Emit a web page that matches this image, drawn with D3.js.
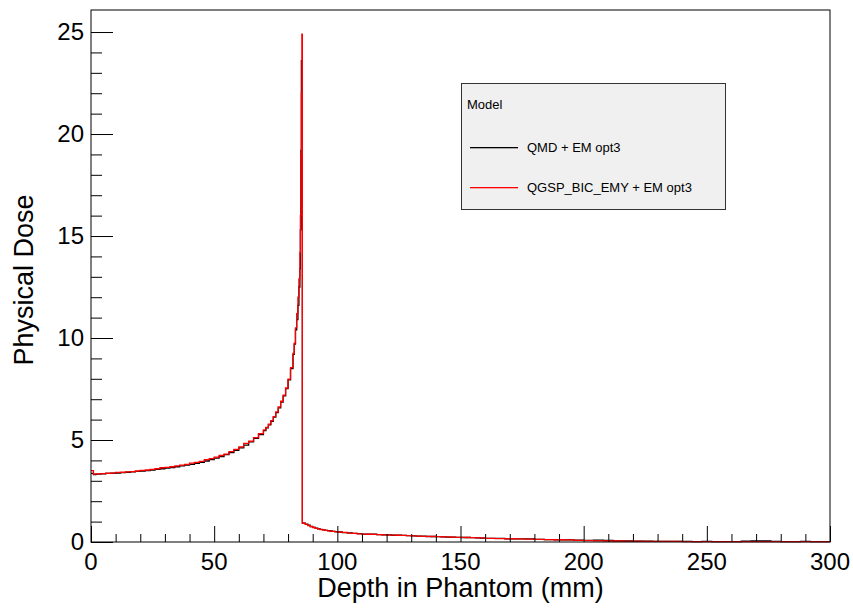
<!DOCTYPE html>
<html>
<head>
<meta charset="utf-8">
<script src="https://cdn.jsdelivr.net/npm/d3@7"></script>
<style>
  body { margin: 0; background: #fff; }
  text { font-family: "Liberation Sans", Arial, Helvetica, sans-serif; }
</style>
</head>
<body>
<div id="chart"></div>
<script>
// bin left edges in mm (last bin ends at 300)
var depth = [
  0, 1,
  2, 4, 6, 8, 10, 12, 14, 16, 18, 20, 22, 24, 26, 28, 30, 32, 34,
  36, 38, 40, 42, 44, 46, 48, 50, 52, 54, 56, 58, 60, 62, 64, 66, 68,
  70, 71, 72, 73, 74, 75, 76, 77, 78, 79, 80, 81,
  82, 82.5, 83, 83.5,
  84, 84.4, 84.8, 85, 85.2, 85.4, 85.6,
  85.8,
  86, 87, 88, 89, 90, 91, 92, 93, 94, 95, 96, 97, 98, 99,
  100, 102, 104, 106, 108, 110, 112, 114, 116, 118, 120, 122, 124, 126, 128,
  130, 132, 134, 136, 138, 140, 142, 144, 146, 148, 150, 152, 154, 156, 158,
  160, 164, 168, 172, 176, 180, 184, 188, 192, 196, 200, 204, 208, 212, 216,
  220, 224, 228, 232, 236, 240, 244, 248, 252, 256, 260, 264, 268, 272, 276,
  280, 284, 288, 292, 296
];
var depthEnd = 300;

var doseQMD = [
  3.36, 3.31,
  3.33, 3.34, 3.36, 3.37, 3.38, 3.40, 3.42, 3.44, 3.46, 3.48, 3.50, 3.53, 3.56, 3.59, 3.62, 3.65, 3.69,
  3.73, 3.77, 3.81, 3.86, 3.91, 3.97, 4.04, 4.11, 4.19, 4.28, 4.38, 4.49, 4.61, 4.75, 4.91, 5.08, 5.27,
  5.46, 5.60, 5.74, 5.92, 6.12, 6.34, 6.58, 6.86, 7.16, 7.52, 7.95, 8.50,
  9.20, 9.70, 10.4, 10.9,
  11.6, 12.5, 13.4, 15.3, 19.2, 23.6, 23.2,
  0.92,
  0.93, 0.88, 0.82, 0.76, 0.72, 0.68, 0.64, 0.62, 0.59, 0.57, 0.56, 0.54, 0.52, 0.51,
  0.49, 0.46, 0.45, 0.42, 0.41, 0.39, 0.38, 0.38, 0.36, 0.35, 0.35, 0.33, 0.33, 0.32, 0.31,
  0.30, 0.29, 0.29, 0.27, 0.27, 0.26, 0.25, 0.24, 0.24, 0.23, 0.22, 0.22, 0.21, 0.20, 0.19,
  0.18, 0.18, 0.16, 0.15, 0.15, 0.13, 0.12, 0.11, 0.10, 0.09, 0.08, 0.09, 0.08, 0.06, 0.05,
  0.04, 0.04, 0.03, 0.03, 0.03, 0.03, 0.02, 0.03, 0.02, 0.02, 0.02, 0.04, 0.05, 0.05, 0.03,
  0.02, 0.02, 0.03, 0.02, 0.02
];

var doseQGSP = [
  3.50, 3.33,
  3.34, 3.35, 3.37, 3.38, 3.41, 3.42, 3.44, 3.45, 3.48, 3.51, 3.53, 3.56, 3.59, 3.64, 3.66, 3.69, 3.73,
  3.77, 3.81, 3.87, 3.90, 3.95, 4.04, 4.09, 4.16, 4.24, 4.31, 4.43, 4.54, 4.66, 4.83, 4.95, 5.12, 5.31,
  5.50, 5.62, 5.78, 5.95, 6.15, 6.38, 6.62, 6.90, 7.20, 7.55, 7.98, 8.55,
  9.25, 9.75, 10.5, 11.2,
  12.0, 12.9, 14.2, 16.0, 19.0, 22.0, 24.9,
  0.95,
  0.92, 0.86, 0.80, 0.75, 0.71, 0.67, 0.64, 0.61, 0.59, 0.57, 0.55, 0.53, 0.52, 0.50,
  0.49, 0.47, 0.44, 0.42, 0.40, 0.39, 0.38, 0.37, 0.36, 0.35, 0.34, 0.34, 0.33, 0.32, 0.31,
  0.30, 0.29, 0.28, 0.28, 0.27, 0.26, 0.25, 0.25, 0.24, 0.23, 0.23, 0.22, 0.21, 0.20, 0.20,
  0.18, 0.17, 0.16, 0.15, 0.14, 0.13, 0.12, 0.11, 0.10, 0.08, 0.07, 0.06, 0.05, 0.05, 0.04,
  0.04, 0.03, 0.03, 0.03, 0.03, 0.02, 0.02, 0.02, 0.02, 0.02, 0.02, 0.02, 0.02, 0.02, 0.02,
  0.02, 0.02, 0.02, 0.02, 0.02
];

var seriesNames = ["QMD + EM opt3", "QGSP_BIC_EMY + EM opt3"];
var seriesColors = ["#000000", "#ff0000"];
var xMajorTicks = [0, 50, 100, 150, 200, 250, 300];
var yMajorTicks = [0, 5, 10, 15, 20, 25];

var w = 853, h = 608;
var padL = 91, padR = 830, padT = 10, padB = 542;

var svg = d3.select("#chart").append("svg")
  .attr("width", w)
  .attr("height", h);

var xScale = d3.scaleLinear().domain([0, 300]).range([padL, padR]);
var yScale = d3.scaleLinear().domain([0, 26.08]).range([padB, padT]);

// histogram lines (step after each bin edge)
function stepData(vals) {
  var pts = depth.map(function(d, i) { return [d, vals[i]]; });
  pts.push([depthEnd, vals[vals.length - 1]]);
  return pts;
}

var line = d3.line()
  .x(function(d) { return xScale(d[0]); })
  .y(function(d) { return yScale(d[1]); })
  .curve(d3.curveStepAfter);

[doseQMD, doseQGSP].forEach(function(vals, i) {
  svg.append("path")
    .datum(stepData(vals))
    .attr("fill", "none")
    .attr("stroke", seriesColors[i])
    .attr("stroke-width", 1.3)
    .attr("d", line);
});

// frame
svg.append("rect")
  .attr("x", padL).attr("y", padT)
  .attr("width", padR - padL).attr("height", padB - padT)
  .attr("fill", "none")
  .attr("stroke", "#000")
  .attr("stroke-width", 1);

// x axis: ticks drawn inward (ROOT style)
var xAxis = d3.axisTop(xScale)
  .tickValues(d3.range(0, 301, 10))
  .tickSize(8)
  .tickFormat("");
var gx = svg.append("g")
  .attr("transform", "translate(0," + padB + ")")
  .call(xAxis);
gx.selectAll(".tick line")
  .attr("y2", function(d) { return d % 50 === 0 ? -16 : -8; })
  .attr("stroke", "#000");
gx.select(".domain").remove();

svg.selectAll(".xlabel")
  .data(xMajorTicks)
  .enter().append("text")
  .attr("x", function(d) { return xScale(d); })
  .attr("y", 570)
  .attr("text-anchor", "middle")
  .attr("font-size", 24)
  .text(function(d) { return d; });

// y axis
var yAxis = d3.axisRight(yScale)
  .tickValues(d3.range(0, 26, 1))
  .tickSize(11)
  .tickFormat("");
var gy = svg.append("g")
  .attr("transform", "translate(" + padL + ",0)")
  .call(yAxis);
gy.selectAll(".tick line")
  .attr("x2", function(d) { return d % 5 === 0 ? 22 : 11; })
  .attr("stroke", "#000");
gy.select(".domain").remove();

svg.selectAll(".ylabel")
  .data(yMajorTicks)
  .enter().append("text")
  .attr("x", 84)
  .attr("y", function(d) { return yScale(d) + 8; })
  .attr("text-anchor", "end")
  .attr("font-size", 24)
  .text(function(d) { return d; });

// axis titles
svg.append("text")
  .attr("x", (padL + padR) / 2)
  .attr("y", 597)
  .attr("text-anchor", "middle")
  .attr("font-size", 27)
  .text("Depth in Phantom (mm)");

svg.append("text")
  .attr("transform", "translate(33," + ((padT + padB) / 2 + 4) + ") rotate(-90)")
  .attr("text-anchor", "middle")
  .attr("font-size", 27)
  .text("Physical Dose");

// legend
var lg = svg.append("g").attr("transform", "translate(461,83)");
lg.append("rect")
  .attr("x", 0.5).attr("y", 0.5)
  .attr("width", 264).attr("height", 126)
  .attr("fill", "#f0f0f0")
  .attr("stroke", "#333")
  .attr("stroke-width", 1);
lg.append("text")
  .attr("x", 6).attr("y", 26)
  .attr("font-size", 13)
  .text("Model");
seriesNames.forEach(function(name, i) {
  var ly = 64 + i * 40;
  // sample line as a 1px filled strip so the colour stays solid
  lg.append("rect")
    .attr("x", 9).attr("y", ly)
    .attr("width", 48).attr("height", 1.3)
    .attr("fill", seriesColors[i]);
  lg.append("text")
    .attr("x", 66).attr("y", ly + 5)
    .attr("font-size", 13)
    .text(name);
});
</script>
</body>
</html>
